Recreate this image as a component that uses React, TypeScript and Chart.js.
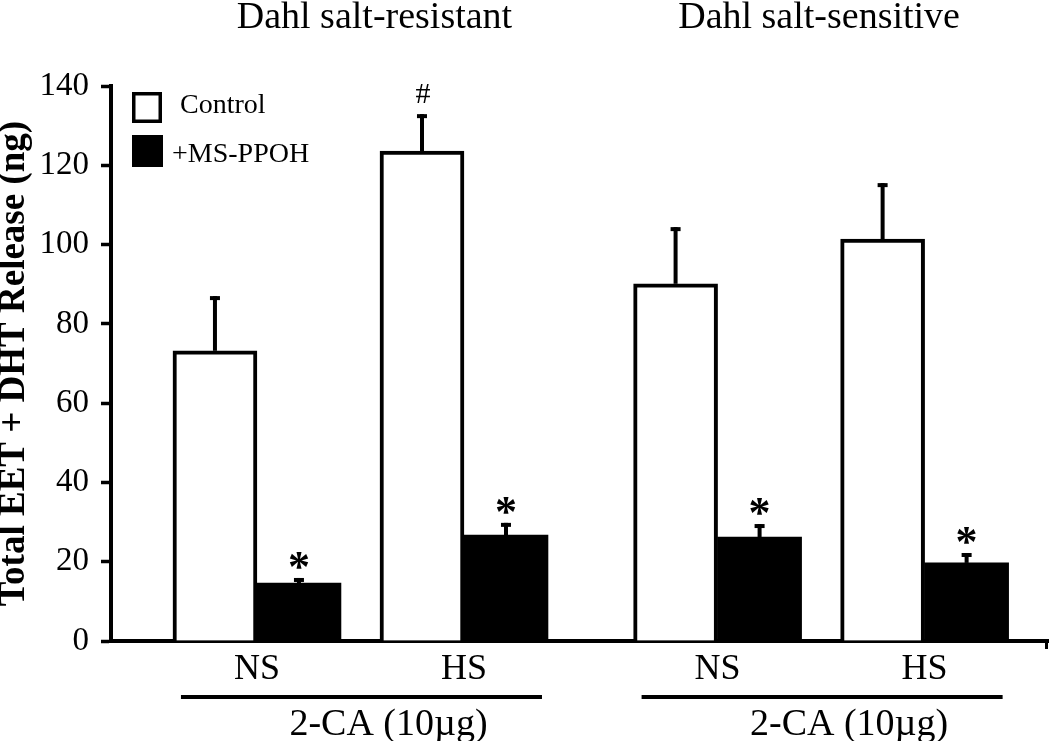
import React, { useEffect, useRef } from "react";
import { Chart, registerables } from "chart.js";

Chart.register(...registerables);

// ---- data ----
const strains = ["Dahl salt-resistant", "Dahl salt-sensitive"];
const conditions = ["NS", "HS", "NS", "HS"];
const conditionStrain = [0, 0, 1, 1];
const treatmentLabel = "2-CA (10\u00b5g)";
const seriesNames = ["Control", "+MS-PPOH"];
const controlValues = [73.2, 123.6, 90.1, 101.4];
const controlErrors = [13.8, 9.3, 14.3, 14.1];
const ppohValues = [14.6, 26.7, 26.2, 19.7];
const ppohErrors = [1.3, 3.1, 3.3, 2.5];
const controlMarks = ["", "#", "", ""];
const ppohMarks = ["*", "*", "*", "*"];
const yMin = 0;
const yMax = 140;
const yStep = 20;
const yTitle = "Total EET + DHT Release (ng)";

// ---- layout helpers (not data) ----
const GROUP_GAP = 0.225; // extra space between the two strain groups, in condition units
const conditionPos = conditions.map((_, i) => i + conditionStrain[i] * GROUP_GAP);

const SERIF = "'Liberation Serif', 'Times New Roman', serif";

const errorPlugin = {
  id: "errorBars",
  afterDatasetsDraw(chart: any) {
    const ctx = chart.ctx;
    const yScale = chart.scales.y;
    chart.data.datasets.forEach((ds: any, di: number) => {
      const meta = chart.getDatasetMeta(di);
      meta.data.forEach((bar: any, i: number) => {
        const v = ds.data[i].y;
        const e = ds.errors[i];
        const top = yScale.getPixelForValue(v + e);
        ctx.save();
        ctx.strokeStyle = "#000";
        ctx.fillStyle = "#000";
        ctx.lineWidth = 4;
        ctx.beginPath();
        ctx.moveTo(bar.x, bar.y);
        ctx.lineTo(bar.x, top);
        ctx.stroke();
        ctx.fillRect(bar.x - 5, top, 10, 4);
        const mark = ds.marks[i];
        if (mark) {
          ctx.textAlign = "center";
          ctx.textBaseline = "alphabetic";
          if (mark === "*") {
            ctx.font = `bold 44px ${SERIF}`;
            ctx.fillText(mark, bar.x, top + 3);
          } else {
            ctx.font = `30px ${SERIF}`;
            ctx.fillText(mark, bar.x + 1, top - 11);
          }
        }
        ctx.restore();
      });
    });
  },
};

const annotationPlugin = {
  id: "annotations",
  afterDraw(chart: any) {
    const ctx = chart.ctx;
    const m0 = chart.getDatasetMeta(0);
    const m1 = chart.getDatasetMeta(1);
    const titleShift = [14, -2];
    ctx.save();
    ctx.fillStyle = "#000";
    ctx.strokeStyle = "#000";
    strains.forEach((name, s) => {
      const idx = conditions.map((_, i) => i).filter((i) => conditionStrain[i] === s);
      const first = idx[0];
      const last = idx[idx.length - 1];
      const b0 = m0.data[first];
      const b1 = m1.data[last];
      const left = b0.x - b0.width / 2;
      const right = b1.x + b1.width / 2;
      const center = (left + right) / 2;
      // underline
      ctx.fillRect(left + 8, 695, right - left - 14, 4);
      // treatment text
      ctx.font = `38px ${SERIF}`;
      ctx.textAlign = "center";
      ctx.textBaseline = "alphabetic";
      ctx.fillText(treatmentLabel, center + 28, 735);
      // strain title
      ctx.fillText(name, center + titleShift[s], 28);
    });
    // legend
    const lx = 132;
    ctx.lineWidth = 3.5;
    ctx.fillStyle = "#fff";
    ctx.fillRect(lx, 92, 30, 31);
    ctx.strokeRect(lx + 1.75, 93.75, 26.5, 27.5);
    ctx.fillStyle = "#000";
    ctx.fillRect(lx, 135, 31, 32);
    ctx.font = `28px ${SERIF}`;
    ctx.textAlign = "left";
    ctx.fillText(seriesNames[0], 180, 113);
    ctx.fillText(seriesNames[1], 172, 162);
    // small end tick on x axis
    const ca = chart.chartArea;
    ctx.fillRect(ca.right - 3, ca.bottom, 3, 8);
    ctx.restore();
  },
};

export default function App() {
  const ref = useRef<HTMLCanvasElement | null>(null);
  useEffect(() => {
    if (!ref.current) return;
    const chart = new Chart(ref.current, {
      type: "bar",
      data: {
        datasets: [
          {
            label: seriesNames[0],
            data: controlValues.map((v, i) => ({ x: conditionPos[i], y: v })),
            errors: controlErrors,
            marks: controlMarks,
            backgroundColor: "#ffffff",
            borderColor: "#000000",
            borderWidth: 4,
            barThickness: 84,
          } as any,
          {
            label: seriesNames[1],
            data: ppohValues.map((v, i) => ({ x: conditionPos[i], y: v })),
            errors: ppohErrors,
            marks: ppohMarks,
            backgroundColor: "#000000",
            borderColor: "#000000",
            borderWidth: 0,
            barThickness: 84,
          } as any,
        ],
      },
      options: {
        responsive: false,
        animation: false,
        devicePixelRatio: 1,
        layout: { padding: { left: 0, right: 2, top: 86, bottom: 0 } },
        plugins: { legend: { display: false }, tooltip: { enabled: false }, title: { display: false } },
        scales: {
          x: {
            type: "linear",
            offset: false,
            min: -0.705,
            max: 3.821,
            afterBuildTicks: (scale: any) => {
              scale.ticks = conditionPos.map((v) => ({ value: v }));
            },
            afterFit: (scale: any) => {
              scale.height = 100;
            },
            ticks: {
              autoSkip: false,
              maxRotation: 0,
              padding: 7,
              color: "#000",
              font: { family: SERIF, size: 36 },
              callback: (_v: any, i: number) => conditions[i],
            },
            grid: { display: true, offset: false, drawOnChartArea: false, drawTicks: false },
            border: { display: true, color: "#000", width: 4 },
          },
          y: {
            type: "linear",
            min: yMin,
            max: yMax,
            afterFit: (scale: any) => {
              scale.width = 111;
            },
            ticks: {
              stepSize: yStep,
              padding: 12,
              color: "#000",
              font: { family: SERIF, size: 33 },
            },
            grid: {
              display: true,
              drawOnChartArea: false,
              drawTicks: true,
              tickLength: 10,
              tickWidth: 3.5,
              tickColor: "#000",
            },
            border: { display: true, color: "#000", width: 4 },
            title: {
              display: true,
              text: yTitle,
              color: "#000",
              padding: 0,
              font: { family: SERIF, size: 37, weight: "bold", lineHeight: 0.8 },
            },
          },
        },
      } as any,
      plugins: [errorPlugin, annotationPlugin],
    });
    return () => chart.destroy();
  }, []);
  return (
    <div style={{ position: "fixed", left: 0, top: 0, width: 1050, height: 741, background: "#fff" }}>
      <canvas ref={ref} width={1050} height={741} style={{ width: 1050, height: 741 }} />
    </div>
  );
}
